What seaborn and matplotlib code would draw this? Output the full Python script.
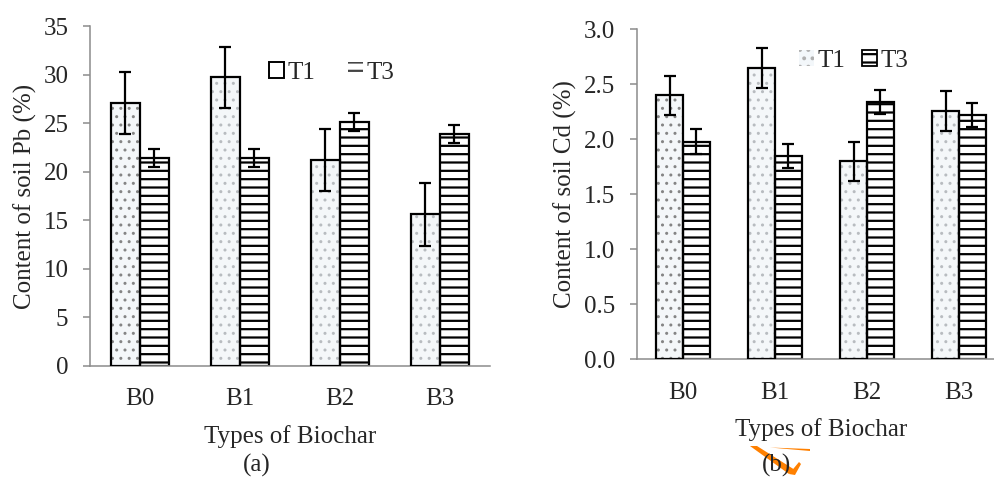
import matplotlib
matplotlib.use("Agg")
import matplotlib.pyplot as plt
from matplotlib.patches import Patch, Rectangle, Polygon
import numpy as np
import pandas as pd
import seaborn as sns

# Soil heavy-metal content by biochar type and treatment
biochar = ["B0", "B1", "B2", "B3"]
treatments = ["T1", "T3"]

pb_t1 = [27.1, 29.7, 21.2, 15.6]
pb_t1_sd = [3.2, 3.15, 3.2, 3.2]
pb_t3 = [21.4, 21.4, 25.1, 23.9]
pb_t3_sd = [0.9, 0.9, 0.9, 0.9]

cd_t1 = [2.40, 2.65, 1.80, 2.26]
cd_t1_sd = [0.18, 0.18, 0.18, 0.18]
cd_t3 = [1.98, 1.85, 2.34, 2.22]
cd_t3_sd = [0.11, 0.11, 0.11, 0.11]

y_ticks_pb = [0, 5, 10, 15, 20, 25, 30, 35]
y_ticks_cd = [0.0, 0.5, 1.0, 1.5, 2.0, 2.5, 3.0]

sns.set_theme(style="white")
plt.rcParams["font.family"] = ["Liberation Serif", "DejaVu Serif"]
plt.rcParams["hatch.linewidth"] = 1.6

AXIS_GREY = "#8c8c8c"
FS = 18


def make_frame(t1, t1_sd, t3, t3_sd):
    rows = []
    for i, b in enumerate(biochar):
        rows.append({"biochar": b, "treatment": "T1", "value": t1[i], "sd": t1_sd[i]})
        rows.append({"biochar": b, "treatment": "T3", "value": t3[i], "sd": t3_sd[i]})
    return pd.DataFrame(rows)


def thin_hatch(patch, lw):
    if hasattr(patch, "set_hatch_linewidth"):
        patch.set_hatch_linewidth(lw)


def draw_panel(ax, df, yticks, ylabel, ytickfmt):
    sns.barplot(data=df, x="biochar", y="value", hue="treatment",
                order=biochar, hue_order=treatments, width=0.58,
                errorbar=None, legend=False, ax=ax,
                palette={"T1": "#f3f7fa", "T3": "white"})
    # seaborn adds patches hue-level by hue-level
    bars = [p for p in ax.patches if isinstance(p, Rectangle)][:2 * len(biochar)]
    t1_bars = bars[:len(biochar)]
    t3_bars = bars[len(biochar):]
    for i, p in enumerate(t1_bars):
        p.set_hatch("..")
        p.set_edgecolor("#858585" if i == 0 else "#b8bcc0")
        p.set_linewidth(0)
        thin_hatch(p, 1.0)
        ax.add_patch(Rectangle(p.get_xy(), p.get_width(), p.get_height(),
                               fill=False, edgecolor="black", linewidth=1.6, zorder=3))
    for p in t3_bars:
        p.set_hatch("--")
        p.set_edgecolor("black")
        p.set_linewidth(1.6)

    for level, group in zip(treatments, (t1_bars, t3_bars)):
        sub = df[df["treatment"] == level].set_index("biochar").loc[biochar]
        xs = [p.get_x() + p.get_width() / 2 for p in group]
        ax.errorbar(xs, sub["value"].to_numpy(), yerr=sub["sd"].to_numpy(),
                    fmt="none", ecolor="black", elinewidth=1.6,
                    capsize=4.5, capthick=1.6, zorder=4)

    ax.set_xlim(-0.5, len(biochar) - 0.5)
    ax.set_ylim(yticks[0], yticks[-1])
    ax.set_yticks(yticks)
    ax.set_yticklabels([ytickfmt(v) for v in yticks], fontsize=FS)
    ax.set_xticks(range(len(biochar)))
    ax.set_xticklabels(biochar, fontsize=FS)
    ax.set_xticks(np.arange(-0.5, len(biochar)), minor=True)
    ax.tick_params(axis="x", which="major", length=0, pad=16)
    ax.tick_params(axis="x", which="minor", length=5, width=1.1,
                   color=AXIS_GREY, direction="out")
    ax.tick_params(axis="y", which="major", length=5, width=1.1,
                   color=AXIS_GREY, direction="out", left=True, pad=10.5)
    for side in ("top", "right"):
        ax.spines[side].set_visible(False)
    for side in ("left", "bottom"):
        ax.spines[side].set_color(AXIS_GREY)
        ax.spines[side].set_linewidth(1.1)
    ax.set_ylabel(ylabel, fontsize=FS)
    ax.set_xlabel("Types of Biochar", fontsize=FS, labelpad=10.5)


fig = plt.figure(figsize=(9.95, 4.78), dpi=100)
ax_pb = fig.add_axes([90 / 995, 112 / 478, 400 / 995, 340 / 478])
ax_cd = fig.add_axes([637 / 995, 118.7 / 478, 368 / 995, 330 / 478])

draw_panel(ax_pb, make_frame(pb_t1, pb_t1_sd, pb_t3, pb_t3_sd),
           y_ticks_pb, "Content of soil Pb (%)", lambda v: f"{v:d}")
draw_panel(ax_cd, make_frame(cd_t1, cd_t1_sd, cd_t3, cd_t3_sd),
           y_ticks_cd, "Content of soil Cd (%)", lambda v: f"{v:.1f}")

ax_pb.yaxis.set_label_coords(-0.1325, 0.5)
ax_cd.yaxis.set_label_coords(-0.163, 0.5)

# Legends
pb_handles = [Patch(facecolor="white", edgecolor="black", linewidth=1.4, label="T1"),
              Patch(facecolor="white", edgecolor="#444444", hatch="--", linewidth=0, label="T3")]
fig.legend(handles=pb_handles, loc="center left", ncol=2, frameon=False,
           bbox_to_anchor=(269 / 995, 1 - 73 / 478), fontsize=FS,
           handlelength=0.6, handleheight=0.6, handletextpad=0.15,
           columnspacing=1.3, borderaxespad=0, borderpad=0)

cd_handles = [Patch(facecolor="#f3f7fa", edgecolor="#b0b0b0", hatch="..", linewidth=0, label="T1"),
              Patch(facecolor="white", edgecolor="black", hatch="--", linewidth=1.3, label="T3")]
fig.legend(handles=cd_handles, loc="center left", ncol=2, frameon=False,
           bbox_to_anchor=(799 / 995, 1 - 61 / 478), fontsize=FS,
           handlelength=0.6, handleheight=0.6, handletextpad=0.15,
           columnspacing=0.65, borderaxespad=0, borderpad=0)

# Panel captions
fig.text(257 / 995, 1 - 465 / 478, "(a)", ha="center", va="center", fontsize=FS)
fig.text(777 / 995, 1 - 465 / 478, "(b)", ha="center", va="center", fontsize=FS)

# Orange pen stroke over the (b) caption
stroke_a = Polygon([[750 / 995, 1 - 446 / 478], [757 / 995, 1 - 446 / 478],
                    [795 / 995, 1 - 470 / 478], [789 / 995, 1 - 474 / 478]],
                   closed=True, transform=fig.transFigure, color="#ff8000", lw=0)
stroke_b = Polygon([[770 / 995, 1 - 447.5 / 478], [810 / 995, 1 - 449 / 478],
                    [810 / 995, 1 - 451 / 478]],
                   closed=True, transform=fig.transFigure, color="#ff8000", lw=0)
stroke_c = Polygon([[789 / 995, 1 - 474 / 478], [799 / 995, 1 - 462 / 478],
                    [801 / 995, 1 - 464 / 478], [795 / 995, 1 - 475 / 478]],
                   closed=True, transform=fig.transFigure, color="#ff8000", lw=0)
for s in (stroke_a, stroke_b, stroke_c):
    fig.add_artist(s)

fig.savefig("out.png", dpi=100)
